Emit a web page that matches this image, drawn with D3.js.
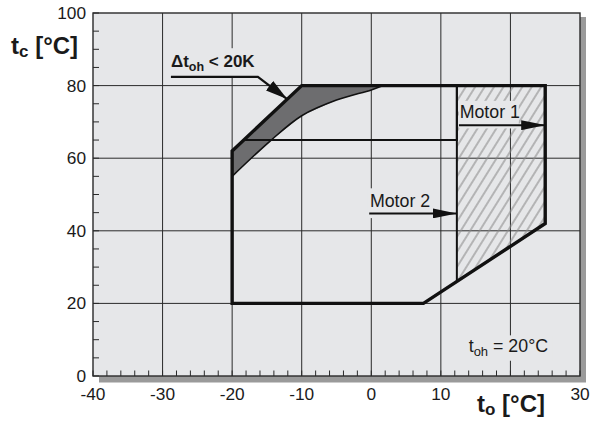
<!DOCTYPE html>
<html>
<head>
<meta charset="utf-8">
<script src="https://cdn.jsdelivr.net/npm/d3@7/dist/d3.min.js"></script>
<style>
  html, body { margin: 0; padding: 0; background: #fff; }
  svg { display: block; }
  text { font-family: "Liberation Sans", Arial, Helvetica, sans-serif; fill: #1a1a1a; }
</style>
</head>
<body>
<svg id="chart" width="593" height="422"></svg>
<script>
// ---- data ----
const xDomain = [-40, 30];
const yDomain = [0, 100];
const xTicks = [-40, -30, -20, -10, 0, 10, 20, 30];
const xTickLabels = ["-40", "-30", "-20", "-10", "0", "10", "", "30"];
const yTicks = [0, 20, 40, 60, 80, 100];
const yTickLabels = ["0", "20", "40", "60", "80", "100"];
const xMinorTicks = d3.range(-40, 30.001, 2);
const yMinorTicks = d3.range(0, 100.001, 5);

// operating envelope (to, tc)
const envelope = [[-20, 20], [-20, 62], [-10, 80], [25, 80], [25, 42], [7.5, 20]];
// grey region  (delta t_oh < 20K)
const greyUpper = [[-20, 62], [-10, 80], [1.7, 80]];
const greyLower = [[1.7, 80], [0, 78.8], [-5, 76], [-10, 71.7], [-14.5, 64.8], [-20, 55]];
// Motor 2 limit
const motor2Limit = [[-18.3, 65], [12.3, 65], [12.3, 80]];
const motor2Vertical = [[12.3, 80], [12.3, 26.05]];
// Motor 1 hatched area
const hatchArea = [[12.3, 80], [25, 80], [25, 42], [12.3, 26.05]];

// annotations
const motor1Arrow = [[12.6, 69.1], [25, 69.1]];
const motor2Arrow = [[-0.3, 44.8], [12.3, 44.8]];
const deltaLeader = [[-28.8, 82.4], [-16.3, 82.4], [-12.1, 76.3]];

// ---- chart ----
const svg = d3.select("#chart");
const x = d3.scaleLinear().domain(xDomain).range([93, 580]);
const y = d3.scaleLinear().domain(yDomain).range([376, 13]);
const X0 = x(xDomain[0]), X1 = x(xDomain[1]), Y0 = y(yDomain[0]), Y1 = y(yDomain[1]);

// defs
const defs = svg.append("defs");
const pat = defs.append("pattern")
  .attr("id", "hatch").attr("patternUnits", "userSpaceOnUse")
  .attr("width", 8).attr("height", 8)
  .attr("patternTransform", "rotate(32)");
pat.append("line").attr("x1", 1).attr("y1", 0).attr("x2", 1).attr("y2", 8)
  .attr("stroke", "#8a8a8a").attr("stroke-width", 1.1);

const arrowMarker = defs.append("marker")
  .attr("id", "arrow").attr("viewBox", "0 0 24 10")
  .attr("refX", 24).attr("refY", 5)
  .attr("markerWidth", 24).attr("markerHeight", 10)
  .attr("markerUnits", "userSpaceOnUse")
  .attr("orient", "auto");
arrowMarker.append("path").attr("d", "M0,0 L24,5 L0,10 Z").attr("fill", "#111");

const leaderMarker = defs.append("marker")
  .attr("id", "arrow2").attr("viewBox", "0 0 22 12")
  .attr("refX", 22).attr("refY", 6)
  .attr("markerWidth", 22).attr("markerHeight", 12)
  .attr("markerUnits", "userSpaceOnUse")
  .attr("orient", "auto");
leaderMarker.append("path").attr("d", "M0,0 L22,6 L0,12 Z").attr("fill", "#111");

// shadow
svg.append("rect").attr("x", X0 + 6).attr("y", Y1 + 4).attr("width", X1 - X0).attr("height", Y0 - Y1 + 2.5)
  .attr("fill", "#9a9a9a");
// plot background
svg.append("rect").attr("x", X0).attr("y", Y1).attr("width", X1 - X0).attr("height", Y0 - Y1)
  .attr("fill", "#e6e7e9");

// gridlines
const grid = svg.append("g").attr("stroke", "#2a2a2a").attr("stroke-width", 1);
grid.selectAll(".vg").data(xTicks.slice(1, -1)).join("line")
  .attr("x1", d => x(d)).attr("x2", d => x(d)).attr("y1", Y1).attr("y2", Y0);
grid.selectAll(".hg").data(yTicks.slice(1, -1)).join("line")
  .attr("y1", d => y(d)).attr("y2", d => y(d)).attr("x1", X0).attr("x2", X1);

// minor ticks
const ticks = svg.append("g").attr("stroke", "#2a2a2a").attr("stroke-width", 1);
ticks.selectAll(".xt").data(xMinorTicks).join("line")
  .attr("x1", d => x(d)).attr("x2", d => x(d)).attr("y1", Y0).attr("y2", Y0 - 5.5);
ticks.selectAll(".yt").data(yMinorTicks).join("line")
  .attr("y1", d => y(d)).attr("y2", d => y(d)).attr("x1", X0).attr("x2", X0 + 6);

// text background boxes (hide grid behind labels)
const bg = "#e6e7e9";
svg.append("rect").attr("x", x(-29.4)).attr("y", y(90.3)).attr("width", x(-15.6) - x(-29.4)).attr("height", y(82.4) - y(90.3)).attr("fill", bg);
svg.append("rect").attr("x", x(-0.5)).attr("y", y(51.7)).attr("width", x(9.3) - x(-0.5)).attr("height", y(43.5) - y(51.7)).attr("fill", bg);
svg.append("rect").attr("x", x(13.8)).attr("y", y(11.2)).attr("width", x(26.0) - x(13.8)).attr("height", y(4.2) - y(11.2)).attr("fill", bg);

const line = d3.line().x(d => x(d[0])).y(d => y(d[1]));

// hatched Motor 1 area
svg.append("path").attr("d", line(hatchArea) + "Z").attr("fill", "url(#hatch)");
// text box inside hatch
svg.append("rect").attr("x", x(12.6)).attr("y", y(75.8)).attr("width", x(21.2) - x(12.6)).attr("height", y(68.2) - y(75.8)).attr("fill", bg);

// grey region
svg.append("path").attr("d", line(greyUpper.concat(greyLower)) + "Z")
  .attr("fill", "#6d6d6f");
svg.append("path").attr("d", d3.line().x(d => x(d[0])).y(d => y(d[1])).curve(d3.curveCatmullRom)(greyLower))
  .attr("fill", "none").attr("stroke", "#111").attr("stroke-width", 1.6);

// Motor 2 limit
svg.append("path").attr("d", line(motor2Limit)).attr("fill", "none").attr("stroke", "#111").attr("stroke-width", 2);
svg.append("path").attr("d", line(motor2Vertical)).attr("fill", "none").attr("stroke", "#111").attr("stroke-width", 2);

// envelope
svg.append("path").attr("d", line(envelope) + "Z")
  .attr("fill", "none").attr("stroke", "#111").attr("stroke-width", 3.4).attr("stroke-linejoin", "miter");

// frame
svg.append("rect").attr("x", X0).attr("y", Y1).attr("width", X1 - X0).attr("height", Y0 - Y1)
  .attr("fill", "none").attr("stroke", "#2a2a2a").attr("stroke-width", 1.4);

// arrows
svg.append("path").attr("d", line(motor1Arrow)).attr("stroke", "#111").attr("stroke-width", 2).attr("fill", "none").attr("marker-end", "url(#arrow)");
svg.append("path").attr("d", line(motor2Arrow)).attr("stroke", "#111").attr("stroke-width", 2).attr("fill", "none").attr("marker-end", "url(#arrow)");
svg.append("path").attr("d", line(deltaLeader)).attr("stroke", "#111").attr("stroke-width", 2.2).attr("fill", "none").attr("marker-end", "url(#arrow2)");

// annotation texts
svg.append("text").attr("x", x(12.7)).attr("y", y(71.0)).attr("font-size", 17.8).text("Motor 1");
svg.append("text").attr("x", x(-0.2)).attr("y", y(46.6)).attr("font-size", 17.8).text("Motor 2");

const dt = svg.append("text").attr("x", x(-28.8)).attr("y", y(85.0)).attr("font-size", 17).attr("font-weight", "bold");
dt.append("tspan").text("\u0394t");
dt.append("tspan").attr("font-size", 12.5).attr("dy", 4).text("oh");
dt.append("tspan").attr("dy", -4).text(" < 20K");

const toh = svg.append("text").attr("x", x(14.0)).attr("y", y(6.6)).attr("font-size", 17.8);
toh.append("tspan").text("t");
toh.append("tspan").attr("font-size", 13).attr("dy", 4).text("oh");
toh.append("tspan").attr("dy", -4).text(" = 20\u00b0C");

// tick labels
svg.selectAll(".xl").data(xTicks).join("text")
  .attr("x", d => x(d)).attr("y", 399.5).attr("text-anchor", "middle").attr("font-size", 17.3)
  .text((d, i) => xTickLabels[i]);
svg.selectAll(".yl").data(yTicks).join("text")
  .attr("x", 86).attr("y", d => y(d) + 6).attr("text-anchor", "end").attr("font-size", 17.3)
  .text((d, i) => yTickLabels[i]);

// axis titles
const yt = svg.append("text").attr("x", 11).attr("y", 54).attr("font-size", 24).attr("font-weight", "bold");
yt.append("tspan").text("t");
yt.append("tspan").attr("font-size", 17).attr("dy", 3).text("c");
yt.append("tspan").attr("dy", -3).text(" [\u00b0C]");

const xt = svg.append("text").attr("x", 477).attr("y", 412).attr("font-size", 24).attr("font-weight", "bold");
xt.append("tspan").text("t");
xt.append("tspan").attr("font-size", 17).attr("dy", 3).text("o");
xt.append("tspan").attr("dy", -3).text(" [\u00b0C]");
</script>
</body>
</html>
